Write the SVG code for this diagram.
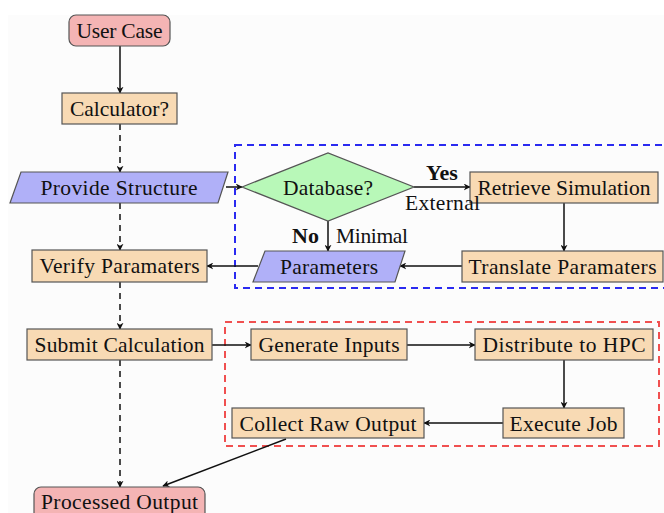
<svg xmlns="http://www.w3.org/2000/svg" width="664" height="513" viewBox="0 0 664 513">
  <style>
    text { font-family: 'Liberation Serif', 'DejaVu Serif', serif; fill: #111; }
    .lbl { font-size: 21.5px; text-anchor: middle; }
    .tag { font-size: 21.5px; }
    .bold { font-weight: bold; font-size: 22px; }
    .term { fill: #f4b4b4; stroke: #555; stroke-width: 1.2; }
    .proc { fill: #f8dab4; stroke: #555; stroke-width: 1.2; }
    .io { fill: #b0b0f8; stroke: #555; stroke-width: 1.2; }
    .dec { fill: #b8f8b8; stroke: #555; stroke-width: 1.2; }
    .edge { stroke: #111; stroke-width: 1.5; fill: none; marker-end: url(#tip); }
    .dash { stroke-dasharray: 6 5; }
    .frame-blue { fill: none; stroke: #2a2af0; stroke-width: 2; stroke-dasharray: 7 5; }
    .frame-red { fill: none; stroke: #f05050; stroke-width: 2; stroke-dasharray: 7 5; }
  </style>
  <defs>
    <marker id="tip" viewBox="0 0 10 10" refX="9" refY="5" markerWidth="7" markerHeight="7" markerUnits="userSpaceOnUse" orient="auto">
      <path d="M0,0 L10,5 L0,10 L3,5 Z" fill="#111"/>
    </marker>
  </defs>

  <rect x="0" y="0" width="664" height="513" fill="#ffffff"/>
  <rect x="8" y="15" width="656" height="498" fill="#fcfcfc"/>

  <!-- grouping frames -->
  <g id="frames">
    <rect class="frame-blue" x="235" y="145" width="440" height="143"/>
    <rect class="frame-red" x="225" y="322" width="434" height="124"/>
  </g>

  <!-- connectors -->
  <g id="connectors">
    <line class="edge" x1="120" y1="46" x2="120" y2="93"/>
    <line class="edge dash" x1="120" y1="124" x2="120" y2="172"/>
    <line class="edge dash" x1="120" y1="203" x2="120" y2="250"/>
    <line class="edge dash" x1="120" y1="282" x2="120" y2="329"/>
    <line class="edge dash" x1="120" y1="360" x2="120" y2="487"/>
    <line class="edge" x1="226" y1="187" x2="242" y2="187"/>
    <line class="edge" x1="414" y1="187" x2="470" y2="187"/>
    <line class="edge" x1="564" y1="203" x2="564" y2="251"/>
    <line class="edge" x1="462" y1="266" x2="400" y2="266"/>
    <line class="edge" x1="328" y1="221" x2="328" y2="251"/>
    <line class="edge" x1="258" y1="266" x2="207" y2="266"/>
    <line class="edge" x1="212" y1="345" x2="251" y2="345"/>
    <line class="edge" x1="407" y1="345" x2="475" y2="345"/>
    <line class="edge" x1="564" y1="360" x2="564" y2="408"/>
    <line class="edge" x1="503" y1="423" x2="424" y2="423"/>
    <line class="edge" x1="286" y1="439" x2="163" y2="486"/>
  </g>

  <g id="user-case">
    <rect class="term" x="69" y="15" width="101" height="31" rx="7"/>
    <text class="lbl" x="119.5" y="37.5" textLength="86">User Case</text>
  </g>
  <g id="calculator">
    <rect class="proc" x="62" y="93" width="115" height="31"/>
    <text class="lbl" x="119.5" y="115.5" textLength="99">Calculator?</text>
  </g>
  <g id="provide-structure">
    <polygon class="io" points="21,172 228,172 218,203 10,203"/>
    <text class="lbl" x="119" y="194.5" textLength="157">Provide Structure</text>
  </g>
  <g id="database">
    <polygon class="dec" points="242,187 328,153 414,187 328,221"/>
    <text class="lbl" x="328" y="194.5" textLength="90">Database?</text>
  </g>
  <g id="retrieve-simulation">
    <rect class="proc" x="470" y="172" width="188" height="31"/>
    <text class="lbl" x="564" y="194.5" textLength="173">Retrieve Simulation</text>
  </g>
  <g id="translate-paramaters">
    <rect class="proc" x="462" y="251" width="201" height="31"/>
    <text class="lbl" x="562.5" y="273.5" textLength="188">Translate Paramaters</text>
  </g>
  <g id="parameters">
    <polygon class="io" points="265,251 405,251 395,282 253,282"/>
    <text class="lbl" x="329" y="273.5" textLength="98">Parameters</text>
  </g>
  <g id="verify-paramaters">
    <rect class="proc" x="32" y="250" width="175" height="32"/>
    <text class="lbl" x="119.5" y="273" textLength="160">Verify Paramaters</text>
  </g>
  <g id="submit-calculation">
    <rect class="proc" x="27" y="329" width="185" height="31"/>
    <text class="lbl" x="119.5" y="352" textLength="170">Submit Calculation</text>
  </g>
  <g id="generate-inputs">
    <rect class="proc" x="251" y="329" width="156" height="31"/>
    <text class="lbl" x="329" y="352" textLength="141">Generate Inputs</text>
  </g>
  <g id="distribute-to-hpc">
    <rect class="proc" x="475" y="329" width="178" height="31"/>
    <text class="lbl" x="564" y="352" textLength="163">Distribute to HPC</text>
  </g>
  <g id="execute-job">
    <rect class="proc" x="503" y="408" width="121" height="30"/>
    <text class="lbl" x="563.5" y="430.5" textLength="108">Execute Job</text>
  </g>
  <g id="collect-raw-output">
    <rect class="proc" x="232" y="408" width="192" height="30"/>
    <text class="lbl" x="328" y="430.5" textLength="177">Collect Raw Output</text>
  </g>
  <g id="processed-output">
    <rect class="term" x="34" y="487" width="171" height="40" rx="7"/>
    <text class="lbl" x="119.5" y="509" textLength="157">Processed Output</text>
  </g>

  <!-- branch labels of the decision, drawn last so they sit on top -->
  <g id="edge-labels">
    <text class="tag bold" x="426" y="180">Yes</text>
    <text class="tag" x="405" y="210" textLength="75">External</text>
    <text class="tag bold" x="292" y="243">No</text>
    <text class="tag" x="336" y="243" textLength="72">Minimal</text>
  </g>
</svg>
